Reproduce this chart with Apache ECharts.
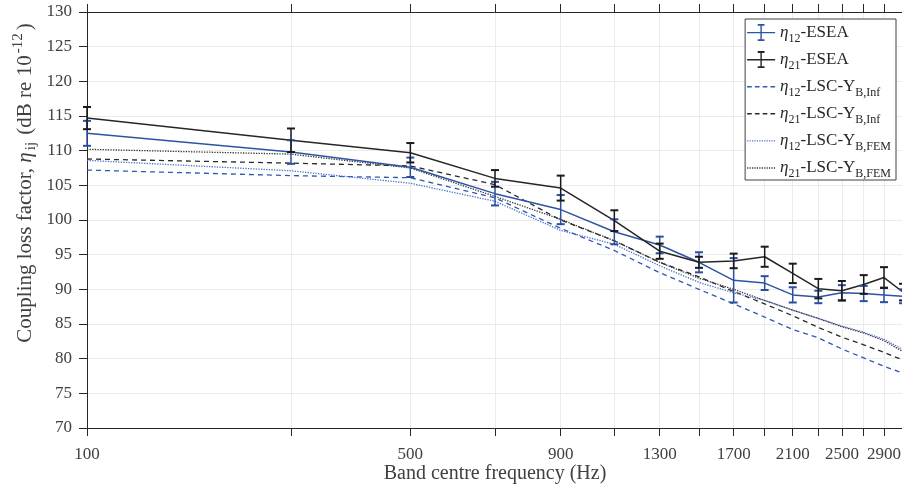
<!DOCTYPE html>
<html>
<head>
<meta charset="utf-8">
<script src="https://cdn.jsdelivr.net/npm/echarts@6/dist/echarts.min.js"></script>
<style>
  html, body { margin: 0; padding: 0; background: #fff; }
  #chart { width: 902px; height: 490px; }
</style>
</head>
<body>
<div id="chart"></div>
<script>
// ---- data ----
const bands = [100, 300, 500, 700, 900, 1100, 1300, 1500, 1700, 1900, 2100, 2300, 2500, 2700, 2900, 3100];
const xTickLabels = [100, 500, 900, 1300, 1700, 2100, 2500, 2900];

const eta12Esea    = [112.5, 109.8, 107.6, 103.8, 101.5, 98.3, 96.4, 93.9, 91.3, 90.9, 89.2, 88.9, 89.5, 89.4, 89.2, 89.0];
const eta12EseaErr = [1.8, 1.7, 1.4, 1.7, 2.1, 1.8, 1.2, 1.45, 3.2, 1.0, 1.1, 0.9, 1.1, 1.1, 1.05, 1.0];
const eta21Esea    = [114.7, 111.5, 109.7, 106.0, 104.6, 99.9, 95.5, 93.9, 94.1, 94.7, 92.3, 90.1, 89.8, 90.7, 91.7, 89.6];
const eta21EseaErr = [1.6, 1.7, 1.4, 1.2, 1.8, 1.5, 1.1, 0.8, 1.05, 1.45, 1.4, 1.4, 1.4, 1.35, 1.5, 1.2];
const eta12Inf = [107.2, 106.4, 106.1, 103.2, 98.8, 95.6, 92.4, 90.0, 87.9, 86.0, 84.2, 83.0, 81.4, 80.1, 78.9, 77.9];
const eta21Inf = [108.8, 108.2, 107.8, 105.1, 100.0, 97.0, 93.9, 91.8, 89.7, 87.9, 86.2, 84.5, 83.1, 82.0, 80.9, 79.8];
const eta12Fem = [108.6, 107.1, 105.3, 102.7, 98.5, 96.5, 93.4, 91.0, 89.5, 88.4, 87.0, 85.8, 84.7, 83.8, 82.8, 81.3];
const eta21Fem = [110.2, 109.5, 107.5, 103.4, 100.1, 97.0, 93.9, 91.6, 90.0, 88.4, 87.0, 85.8, 84.6, 83.7, 82.6, 81.0];

const seriesNames = ['η12-ESEA', 'η21-ESEA', 'η12-LSC-YB,Inf', 'η21-LSC-YB,Inf', 'η12-LSC-YB,FEM', 'η21-LSC-YB,FEM'];
const yMin = 70, yMax = 130, yStep = 5;

// ---- helpers ----
// band axis is logarithmic in band index (f = 200*i - 100)
const pos = f => Math.log((f + 100) / 200);
const FONT = "'Liberation Serif', 'Times New Roman', serif";
const BLUE = '#2d54a3', BLACK = '#262626';

const lineData = vals => bands.map((f, i) => [pos(f), vals[i]]);
const errData = (vals, err) => bands.map((f, i) => [pos(f), vals[i] - err[i], vals[i] + err[i]]);

function errRender(color) {
  return function (params, api) {
    const x = api.value(0);
    const pLo = api.coord([x, api.value(1)]);
    const pHi = api.coord([x, api.value(2)]);
    const hw = 4;
    return {
      type: 'group',
      children: [
        { type: 'line', shape: { x1: pLo[0], y1: pLo[1], x2: pHi[0], y2: pHi[1] }, style: { stroke: color, lineWidth: 1.5 } },
        { type: 'line', shape: { x1: pLo[0] - hw, y1: pLo[1], x2: pLo[0] + hw, y2: pLo[1] }, style: { stroke: color, lineWidth: 2 } },
        { type: 'line', shape: { x1: pHi[0] - hw, y1: pHi[1], x2: pHi[0] + hw, y2: pHi[1] }, style: { stroke: color, lineWidth: 2 } }
      ]
    };
  };
}

// legend icons (path icons, keep aspect)
const errIcon = 'path://M0,8L28,8L28,9.3L0,9.3Z M13.3,0.5L14.7,0.5L14.7,16.5L13.3,16.5Z M10.6,0L17.4,0L17.4,1.8L10.6,1.8Z M10.6,15.2L17.4,15.2L17.4,17L10.6,17Z';
function patternIcon(dash, gap, th) {
  let p = 'path://', x = 0;
  while (x < 28) {
    const w = Math.min(dash, 28 - x);
    p += 'M' + x + ',0h' + w + 'v' + th + 'h' + (-w) + 'Z ';
    x += dash + gap;
  }
  return p;
}
const dashIcon = patternIcon(4.5, 3, 1.4);
const dotIcon = patternIcon(1.2, 1.2, 1.3);

const richLegend = {
  n: { fontFamily: FONT, fontSize: 17, color: '#262626' },
  i: { fontFamily: FONT, fontSize: 17, fontStyle: 'italic', color: '#262626' },
  sb: { fontFamily: FONT, fontSize: 12, color: '#262626', padding: [12, 0, 0, 0] }
};
const legendLabel = {
  'η12-ESEA': '{i|η}{sb|12}{n|-ESEA}',
  'η21-ESEA': '{i|η}{sb|21}{n|-ESEA}',
  'η12-LSC-YB,Inf': '{i|η}{sb|12}{n|-LSC-Y}{sb|B,Inf}',
  'η21-LSC-YB,Inf': '{i|η}{sb|21}{n|-LSC-Y}{sb|B,Inf}',
  'η12-LSC-YB,FEM': '{i|η}{sb|12}{n|-LSC-Y}{sb|B,FEM}',
  'η21-LSC-YB,FEM': '{i|η}{sb|21}{n|-LSC-Y}{sb|B,FEM}'
};

const tickVals = bands.map(pos);
const labelVals = xTickLabels.map(pos);
const axisLineStyle = { color: '#262626', width: 1 };

const chart = echarts.init(document.getElementById('chart'), null, { renderer: 'canvas' });
chart.setOption({
  animation: false,
  backgroundColor: '#fff',
  grid: { left: 87, top: 12, width: 816, bottom: 62, containLabel: false, outerBoundsMode: 'none' },
  xAxis: [
    {
      type: 'value', position: 'bottom', min: pos(100), max: pos(3100),
      axisLine: { show: true, onZero: false, lineStyle: axisLineStyle },
      axisTick: { show: true, inside: false, length: 8, lineStyle: axisLineStyle, customValues: tickVals },
      axisLabel: {
        customValues: labelVals, margin: 18, fontFamily: FONT, fontSize: 17, color: '#404040',
        formatter: v => String(Math.round(200 * Math.exp(v) - 100))
      },
      splitLine: { show: true, lineStyle: { color: '#ebebeb', width: 1 } },
      name: 'Band centre frequency (Hz)', nameLocation: 'middle', nameGap: 36, nameMoveOverlap: false,
      nameTextStyle: { fontFamily: FONT, fontSize: 20, color: '#404040' }
    },
    {
      type: 'value', position: 'top', min: pos(100), max: pos(3100),
      axisLine: { show: true, onZero: false, lineStyle: axisLineStyle },
      axisTick: { show: true, inside: false, length: 8, lineStyle: axisLineStyle, customValues: tickVals },
      axisLabel: { show: false },
      splitLine: { show: false }
    }
  ],
  yAxis: {
    type: 'value', min: yMin, max: yMax, interval: yStep,
    axisLine: { show: true, lineStyle: axisLineStyle },
    axisTick: { show: true, inside: false, length: 8, lineStyle: axisLineStyle },
    axisLabel: { margin: 15, fontFamily: FONT, fontSize: 17, color: '#404040', showMinLabel: true, showMaxLabel: true },
    splitLine: { show: true, lineStyle: { color: '#ebebeb', width: 1 } },
    name: '{n|Coupling loss factor, }{i|η}{sb|ij}{n| (dB re 10}{sp|-12}{n|)}',
    nameLocation: 'middle', nameGap: 48, nameRotate: 90, nameMoveOverlap: false,
    nameTextStyle: {
      padding: [0, 0, 0, 74],
      rich: {
        n: { fontFamily: FONT, fontSize: 21, color: '#404040' },
        i: { fontFamily: FONT, fontSize: 21, fontStyle: 'italic', color: '#404040' },
        sb: { fontFamily: FONT, fontSize: 15, color: '#404040', padding: [13, 2, 0, 2] },
        sp: { fontFamily: FONT, fontSize: 15, color: '#404040', padding: [0, 3, 13, 2] }
      }
    }
  },
  legend: {
    orient: 'vertical', right: 6, top: 19, align: 'left',
    backgroundColor: '#fff', borderColor: '#404040', borderWidth: 1,
    padding: [5, 5, 0, 2], itemWidth: 28, itemHeight: 17, itemGap: 6.6, itemTextGap: 2,
    data: [
      { name: seriesNames[0], icon: errIcon },
      { name: seriesNames[1], icon: errIcon },
      { name: seriesNames[2], icon: dashIcon },
      { name: seriesNames[3], icon: dashIcon },
      { name: seriesNames[4], icon: dotIcon },
      { name: seriesNames[5], icon: dotIcon }
    ],
    formatter: name => legendLabel[name],
    textStyle: { fontFamily: FONT, fontSize: 17, color: '#262626', rich: richLegend }
  },
  series: [
    { name: seriesNames[2], type: 'line', data: lineData(eta12Inf), symbol: 'none', color: '#2f58b4',
      lineStyle: { color: '#2f58b4', width: 1.3, type: [5, 4] }, z: 2 },
    { name: seriesNames[3], type: 'line', data: lineData(eta21Inf), symbol: 'none', color: '#2a2a2a',
      lineStyle: { color: '#2a2a2a', width: 1.3, type: [5, 4] }, z: 2 },
    { name: seriesNames[4], type: 'line', data: lineData(eta12Fem), symbol: 'none', color: '#4a70c8',
      lineStyle: { color: '#4a70c8', width: 1.3, type: [1.3, 1.3] }, z: 2 },
    { name: seriesNames[5], type: 'line', data: lineData(eta21Fem), symbol: 'none', color: '#333333',
      lineStyle: { color: '#333333', width: 1.3, type: [1.3, 1.3] }, z: 2 },
    { name: seriesNames[0], type: 'line', data: lineData(eta12Esea), symbol: 'none', color: BLUE,
      lineStyle: { color: BLUE, width: 1.5 }, z: 3 },
    { name: 'err12', type: 'custom', data: errData(eta12Esea, eta12EseaErr), renderItem: errRender('#2a4fa0'),
      encode: { x: 0, y: [1, 2] }, z: 4, silent: true },
    { name: seriesNames[1], type: 'line', data: lineData(eta21Esea), symbol: 'none', color: BLACK,
      lineStyle: { color: BLACK, width: 1.5 }, z: 3 },
    { name: 'err21', type: 'custom', data: errData(eta21Esea, eta21EseaErr), renderItem: errRender('#1a1a1a'),
      encode: { x: 0, y: [1, 2] }, z: 4, silent: true }
  ]
});
</script>
</body>
</html>
